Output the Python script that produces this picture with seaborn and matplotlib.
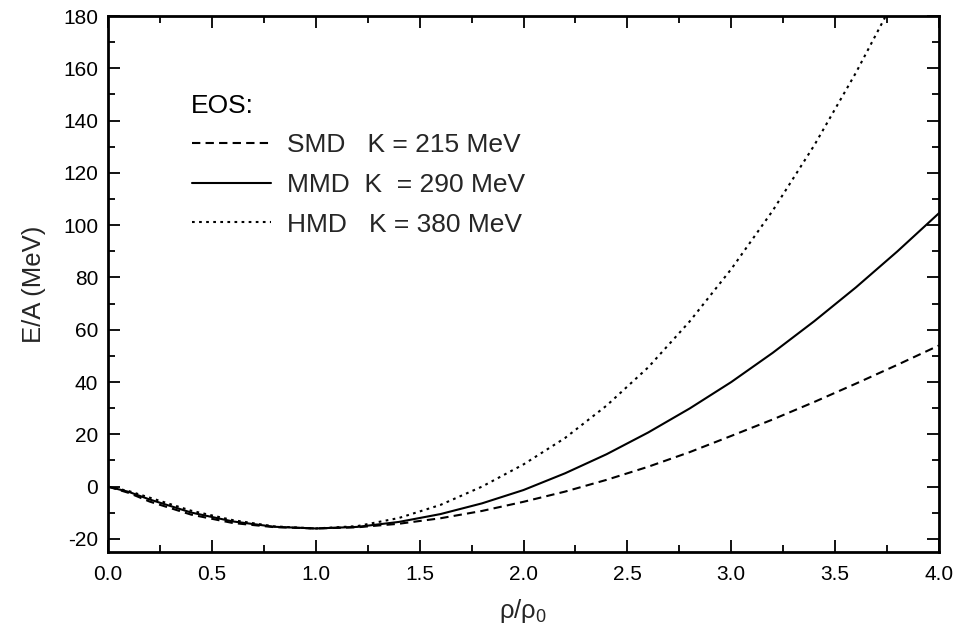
import numpy as np
import pandas as pd
import matplotlib
matplotlib.use("Agg")
import matplotlib.pyplot as plt
import seaborn as sns
from matplotlib.ticker import MultipleLocator

# ---- data ----
rho = [0.0, 0.1, 0.2, 0.4, 0.6, 0.8, 1.0, 1.2, 1.4, 1.6, 1.8, 2.0,
       2.2, 2.4, 2.6, 2.8, 3.0, 3.2, 3.4, 3.6, 3.8, 4.0]
e_smd = [0.0, -2.4, -5.7, -10.7, -13.9, -15.5, -16.0, -15.55, -14.2, -12.1, -9.3, -5.8,
         -1.9, 2.6, 7.6, 13.2, 19.4, 25.7, 32.4, 39.4, 46.6, 54.0]
e_mmd = [0.0, -2.0, -4.9, -9.9, -13.3, -15.35, -16.0, -15.4, -13.5, -10.5, -6.4, -1.3,
         5.1, 12.4, 20.7, 29.9, 40.0, 51.2, 63.3, 76.2, 90.0, 104.6]
e_hmd = [0.0, -1.7, -4.2, -9.2, -12.8, -15.2, -16.0, -15.1, -12.0, -7.0, 0.0, 8.5,
         18.6, 31.0, 45.6, 63.2, 83.2, 105.6, 130.6, 158.3, 188.5, 221.0]
labels = ["SMD   K = 215 MeV", "MMD  K  = 290 MeV", "HMD   K = 380 MeV"]
legend_title = "EOS:"
xticks = [0.0, 0.5, 1.0, 1.5, 2.0, 2.5, 3.0, 3.5, 4.0]
yticks = [-20, 0, 20, 40, 60, 80, 100, 120, 140, 160, 180]

sns.set_theme(style="ticks")
plt.rcParams["font.family"] = ["Liberation Sans", "DejaVu Sans"]
plt.rcParams["mathtext.fontset"] = "custom"
plt.rcParams["mathtext.rm"] = "Liberation Sans"
plt.rcParams["mathtext.it"] = "Liberation Sans:italic"

fig = plt.figure(figsize=(9.58, 6.41), dpi=100)
ax = fig.add_axes([108 / 958, 1 - 552 / 641, (939 - 108) / 958, (552 - 16) / 641])

styles = [(0, (4, 2.5)), "-", (0, (1.3, 2.1))]
for vals, lab, ls in zip([e_smd, e_mmd, e_hmd], labels, styles):
    df = pd.DataFrame({"rho": rho, "E": vals})
    sns.lineplot(data=df, x="rho", y="E", ax=ax, color="black", lw=1.5,
                 linestyle=ls, label=lab, sort=False)

ax.set_xlim(0, 4)
ax.set_ylim(-25, 180)
ax.set_xticks(xticks)
ax.set_xticklabels([f"{t:.1f}" for t in xticks])
ax.set_yticks(yticks)
ax.set_yticklabels([str(t) for t in yticks])
ax.xaxis.set_minor_locator(MultipleLocator(0.25))
ax.yaxis.set_minor_locator(MultipleLocator(10))

for s in ax.spines.values():
    s.set_visible(True)
    s.set_linewidth(2.0)
    s.set_color("black")

ax.tick_params(which="both", direction="in", top=True, right=True,
               colors="black", labelsize=15)
ax.tick_params(which="major", length=8.6, width=1.3)
ax.tick_params(which="minor", length=5, width=1.3)
ax.tick_params(axis="x", which="major", pad=9)
ax.tick_params(axis="y", which="major", pad=7)

ax.set_xlabel("ρ/ρ$_0$", fontsize=18.5, labelpad=10)
ax.set_ylabel("E/A (MeV)", fontsize=18.5, labelpad=12)

leg = ax.legend(loc="upper left", bbox_to_anchor=(0.0995, 0.7842),
                frameon=False, fontsize=19,
                handlelength=3.0, handletextpad=0.6,
                labelspacing=0.6, borderpad=0.05, borderaxespad=0)
for h in leg.get_lines():
    h.set_linewidth(1.5)

fig.text(191 / 958, 1 - 113.3 / 641, legend_title, fontsize=19,
         ha="left", va="baseline", color="black")

fig.savefig("out.png", dpi=100)
